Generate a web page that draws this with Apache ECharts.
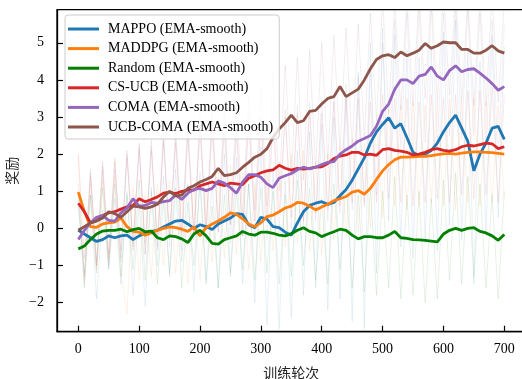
<!DOCTYPE html>
<html><head><meta charset="utf-8">
<script src="https://cdn.jsdelivr.net/npm/echarts@6/dist/echarts.min.js"></script>
<style>html,body{margin:0;padding:0;background:#fff}#c{width:522px;height:379px}</style>
</head><body><div id="c"></div>
<script>
const episodes = [0,10,20,30,40,50,60,70,80,90,100,110,120,130,140,150,160,170,180,190,200,210,220,230,240,250,260,270,280,290,300,310,320,330,340,350,360,370,380,390,400,410,420,430,440,450,460,470,480,490,500,510,520,530,540,550,560,570,580,590,600,610,620,630,640,650,660,670,680,690,700];
const xTicks = [0,100,200,300,400,500,600,700];
const yTicks = [-2,-1,0,1,2,3,4,5];
const seriesNames = ['MAPPO (EMA-smooth)','MADDPG (EMA-smooth)','Random (EMA-smooth)','CS-UCB (EMA-smooth)','COMA (EMA-smooth)','UCB-COMA (EMA-smooth)'];
const seriesColors = ['#1f77b4','#ff7f0e','#008000','#d62728','#9467bd','#8c564b'];

// EMA-smoothed curves
const mappoSmooth = [-0.05,-0.15,-0.25,-0.35,-0.3,-0.2,-0.25,-0.2,-0.18,-0.3,-0.2,-0.12,-0.08,-0.05,0.04,0.12,0.2,0.22,0.12,0,0.1,0.05,-0.03,0.12,0.2,0.28,0.4,0.38,0.1,0.02,0.3,0.25,0.05,0.02,-0.1,-0.18,0.15,0.45,0.62,0.68,0.72,0.65,0.7,0.88,1.05,1.3,1.6,1.9,2.3,2.6,2.8,2.98,2.7,2.82,2.45,2.05,1.95,2.0,2.1,2.3,2.6,2.85,3.05,2.7,2.35,1.55,2.0,2.3,2.7,2.75,2.4];
const maddpgSmooth = [0.98,0.45,0.05,0.03,0.12,0.15,0.17,0.28,0.05,-0.08,-0.1,-0.18,-0.12,-0.05,0,0.04,0.02,-0.02,-0.08,0.04,-0.2,0.02,0.12,0.2,0.3,0.42,0.38,0.26,0.12,0.05,0.15,0.32,0.36,0.45,0.55,0.6,0.7,0.68,0.6,0.5,0.58,0.65,0.75,0.8,0.86,0.98,1.02,0.92,1.08,1.32,1.55,1.72,1.85,1.92,1.92,1.93,1.94,1.94,1.96,1.99,2.01,2.02,2.0,2.03,2.05,2.06,2.06,2.05,2.04,2.02,2.0];
const randomSmooth = [-0.55,-0.47,-0.3,-0.15,-0.07,-0.05,-0.05,-0.02,-0.09,-0.03,0.0,-0.09,-0.07,-0.25,-0.3,-0.2,-0.22,-0.28,-0.38,-0.15,-0.05,-0.2,-0.4,-0.42,-0.3,-0.25,-0.2,-0.08,-0.15,-0.18,-0.1,-0.1,-0.13,-0.18,-0.2,-0.14,-0.05,0.02,-0.08,-0.12,-0.22,-0.15,-0.09,-0.02,-0.05,-0.18,-0.28,-0.22,-0.22,-0.25,-0.25,-0.18,-0.08,-0.25,-0.27,-0.3,-0.31,-0.32,-0.34,-0.36,-0.15,-0.05,0.0,-0.05,0.0,0.02,-0.08,-0.12,-0.2,-0.32,-0.16];
const csucbSmooth = [0.68,0.45,0.15,0.2,0.35,0.42,0.45,0.52,0.58,0.62,0.8,0.72,0.78,0.85,0.95,0.98,0.94,1.0,1.03,1.03,1.15,1.2,1.25,1.2,1.15,1.22,1.2,1.18,1.35,1.42,1.5,1.55,1.58,1.7,1.62,1.57,1.62,1.6,1.62,1.65,1.66,1.75,1.88,1.95,1.98,2.05,2.05,1.98,2.0,1.97,2.12,2.15,2.1,2.08,2.05,1.98,2.0,2.05,2.12,2.15,2.1,2.08,2.12,2.2,2.24,2.22,2.26,2.3,2.28,2.15,2.2];
const comaSmooth = [-0.3,-0.05,0.15,0.3,0.35,0.22,0.2,0.42,0.55,0.8,0.6,0.62,0.7,0.68,0.72,0.75,0.9,0.78,0.95,1.05,1.08,1.02,1.08,1.28,1.22,1.1,0.95,1.25,1.45,1.45,1.38,1.2,1.1,1.35,1.42,1.48,1.58,1.65,1.6,1.65,1.72,1.78,1.8,2.0,2.12,2.22,2.35,2.42,2.5,2.75,3.15,3.35,3.75,4.0,4.0,3.9,4.1,4.15,4.35,4.1,4.0,4.25,4.38,4.22,4.28,4.3,4.18,4.05,3.9,3.72,3.82];
const ucbcomaSmooth = [-0.05,0.05,0.15,0.2,0.28,0.45,0.4,0.3,0.45,0.6,0.58,0.54,0.58,0.65,0.85,1.0,0.88,0.9,1.08,1.15,1.25,1.32,1.4,1.62,1.42,1.45,1.5,1.65,1.78,1.92,2.0,2.15,2.45,2.68,2.85,3.05,2.85,2.9,3.15,3.18,3.35,3.5,3.55,3.82,3.55,3.65,3.75,4.0,4.3,4.55,4.65,4.68,4.6,4.75,4.65,4.72,4.8,4.98,4.85,4.92,5.02,5.0,5.0,4.82,4.82,4.72,4.72,4.8,4.92,4.78,4.72];

// raw (unsmoothed) rewards, faint
const mappoRaw = [0.6,-1.2,0.9,-1.9,0.5,-1.1,0.8,-1.5,1.0,-1.8,0.7,-2.1,1.1,-1.0,1.4,-1.3,1.6,-0.9,1.2,-1.7,1.5,-1.4,1.3,-1.6,2.0,-1.2,1.9,-1.5,1.2,-2.0,2.2,-2.6,1.6,-2.7,1.3,-2.4,2.1,-1.8,2.6,-1.6,2.8,-2.2,3.0,-1.9,3.6,-2.5,4.2,-2.7,5.0,-1.2,5.4,0.2,5.2,-0.5,4.8,-0.8,4.6,-0.4,4.9,-0.6,5.3,0.1,5.6,-0.3,4.8,-1.5,4.5,-0.2,5.2,0.3,4.9];
const maddpgRaw = [2.0,-1.4,1.2,-1.1,1.3,-0.9,1.4,-1.2,-2.3,1.1,-1.4,0.9,-1.3,1.2,-1.0,1.3,-1.2,1.0,-1.5,1.2,-1.4,1.1,-0.9,1.5,-0.8,1.7,-0.7,1.5,-1.1,1.2,-0.9,1.6,-0.6,1.8,-0.5,2.0,-0.4,2.1,-0.6,1.8,-0.7,2.0,-0.3,2.2,-0.2,2.4,-0.1,2.3,0.0,2.8,0.3,3.2,0.6,3.3,0.5,3.4,0.6,3.3,0.7,3.4,0.6,3.5,0.5,3.4,0.7,3.5,0.6,3.4,0.7,3.3,0.8];
const randomRaw = [0.8,-1.6,0.9,-1.2,1.1,-1.0,1.2,-1.3,0.9,-1.1,1.3,-1.4,1.0,-1.5,0.8,-1.2,1.1,-1.6,0.7,-1.0,1.2,-1.5,0.6,-1.6,0.9,-1.3,1.0,-1.1,1.2,-1.4,1.1,-1.2,1.0,-1.5,0.9,-1.3,1.3,-1.0,1.1,-1.4,0.8,-1.5,1.2,-1.1,1.3,-1.6,0.9,-1.7,1.1,-1.8,1.0,-1.6,1.4,-1.9,0.9,-1.8,1.0,-2.0,0.8,-1.9,1.3,-1.4,1.5,-1.5,1.4,-1.3,1.2,-1.6,0.9,-1.9,1.0];
const csucbRaw = [2.0,-0.8,1.4,-1.0,1.6,-0.7,1.8,-0.6,1.9,-0.5,2.2,-0.4,2.1,-0.3,2.4,-0.2,2.3,-0.1,2.5,-0.2,2.7,0.0,2.8,-0.1,2.6,0.1,2.7,-0.2,2.9,0.2,3.0,0.3,3.1,0.4,3.0,0.3,3.1,0.2,3.2,0.4,3.1,0.5,3.4,0.6,3.5,0.7,3.5,0.6,3.4,0.7,3.6,0.8,3.5,0.7,3.5,0.6,3.4,0.7,3.6,0.8,3.5,0.7,3.6,0.9,3.7,0.8,3.7,0.9,3.8,0.7,3.6];
const comaRaw = [1.0,-1.5,1.5,-0.9,1.7,-1.1,1.6,-0.8,2.0,-0.4,2.1,-0.7,2.2,-0.6,2.3,-0.5,2.5,-0.6,2.6,-0.3,2.8,-0.4,2.7,-0.1,3.0,-0.4,2.6,-0.2,3.1,-0.1,3.0,-0.3,2.8,-0.1,3.2,0.0,3.3,0.1,3.4,0.2,3.5,0.2,3.6,0.4,3.9,0.5,4.1,0.7,4.4,0.9,5.0,1.5,5.6,2.2,5.8,2.0,5.9,2.3,6.0,2.2,5.8,2.5,6.0,2.4,5.9,2.5,5.8,2.3,5.6,1.9,5.5];
const ucbcomaRaw = [1.2,-1.3,1.6,-1.0,1.8,-0.8,1.9,-0.9,2.1,-0.6,2.3,-0.7,2.4,-0.5,2.6,-0.3,2.7,-0.2,2.9,-0.1,3.1,0.0,3.2,0.2,3.3,0.1,3.4,0.3,3.6,0.5,3.8,0.6,4.2,1.0,4.4,1.4,4.6,1.3,4.8,1.6,5.0,1.8,5.2,2.1,5.4,2.2,5.5,2.4,5.8,2.9,6.2,3.1,6.1,3.2,6.2,3.3,6.3,3.5,6.3,3.4,6.4,3.6,6.3,3.4,6.2,3.3,6.2,3.3,6.3,3.4,6.1];

const smoothList = [mappoSmooth, maddpgSmooth, randomSmooth, csucbSmooth, comaSmooth, ucbcomaSmooth];
const rawList = [mappoRaw, maddpgRaw, randomRaw, csucbRaw, comaRaw, ucbcomaRaw];

const pairs = arr => episodes.map((e, i) => [e, arr[i]]);
const series = [];
rawList.forEach((arr, k) => {
  series.push({
    name: seriesNames[k] + ' raw', type: 'line', data: pairs(arr), showSymbol: false, symbol: 'none',
    lineStyle: { color: seriesColors[k], width: 1, opacity: 0.1 }, itemStyle: { color: seriesColors[k] },
    z: 1, silent: true, clip: true
  });
});
smoothList.forEach((arr, k) => {
  series.push({
    name: seriesNames[k], type: 'line', data: pairs(arr), showSymbol: false, symbol: 'none',
    lineStyle: { color: seriesColors[k], width: 2.8 }, itemStyle: { color: seriesColors[k] },
    z: 3, clip: true
  });
});

const serif = '"Liberation Serif", "Times New Roman", serif';
const cjk = '"Noto Sans CJK SC", sans-serif';
const chart = echarts.init(document.getElementById('c'), null, { renderer: 'canvas' });
chart.setOption({
  animation: false,
  backgroundColor: '#fff',
  grid: { left: 57, top: 9.7, width: 468.6, height: 322, outerBoundsMode: 'none', containLabel: false,
    show: true, borderColor: '#000', borderWidth: 1.3, backgroundColor: 'transparent' },
  legend: {
    data: seriesNames, orient: 'vertical', left: 65, top: 15,
    icon: 'rect', itemWidth: 31, itemHeight: 3, itemGap: 3.6,
    padding: [6, 6, 4, 3],
    backgroundColor: 'rgba(255,255,255,0.8)', borderColor: '#cccccc', borderWidth: 1, borderRadius: 3,
    textStyle: { fontFamily: serif, fontSize: 14, color: '#000', lineHeight: 16, padding: [0, 0, 0, 4] }
  },
  xAxis: {
    type: 'value', min: -35, max: 735,
    name: '训练轮次', nameLocation: 'middle', nameGap: 34,
    nameTextStyle: { fontFamily: cjk, fontSize: 14, color: '#222' },
    axisLine: { show: true, onZero: false, lineStyle: { color: '#000', width: 1.3 } },
    axisTick: { show: true, inside: true, length: 6, customValues: xTicks, lineStyle: { color: '#000', width: 1.2 } },
    axisLabel: { customValues: xTicks, fontFamily: serif, fontSize: 14, color: '#000', margin: 11 },
    splitLine: { show: false }
  },
  yAxis: {
    type: 'value', min: -2.78, max: 5.89,
    name: '奖励', nameLocation: 'middle', nameGap: 31, nameRotate: 90,
    nameTextStyle: { fontFamily: cjk, fontSize: 14, color: '#222' },
    axisLine: { show: true, onZero: false, lineStyle: { color: '#000', width: 1.3 } },
    axisTick: { show: true, inside: true, length: 6, customValues: yTicks, lineStyle: { color: '#000', width: 1.2 } },
    axisLabel: { customValues: yTicks, fontFamily: serif, fontSize: 14, color: '#000', margin: 13,
      formatter: v => String(v).replace('-', '\u2212') },
    splitLine: { show: false }
  },
  series: series
});
</script>
</body></html>
